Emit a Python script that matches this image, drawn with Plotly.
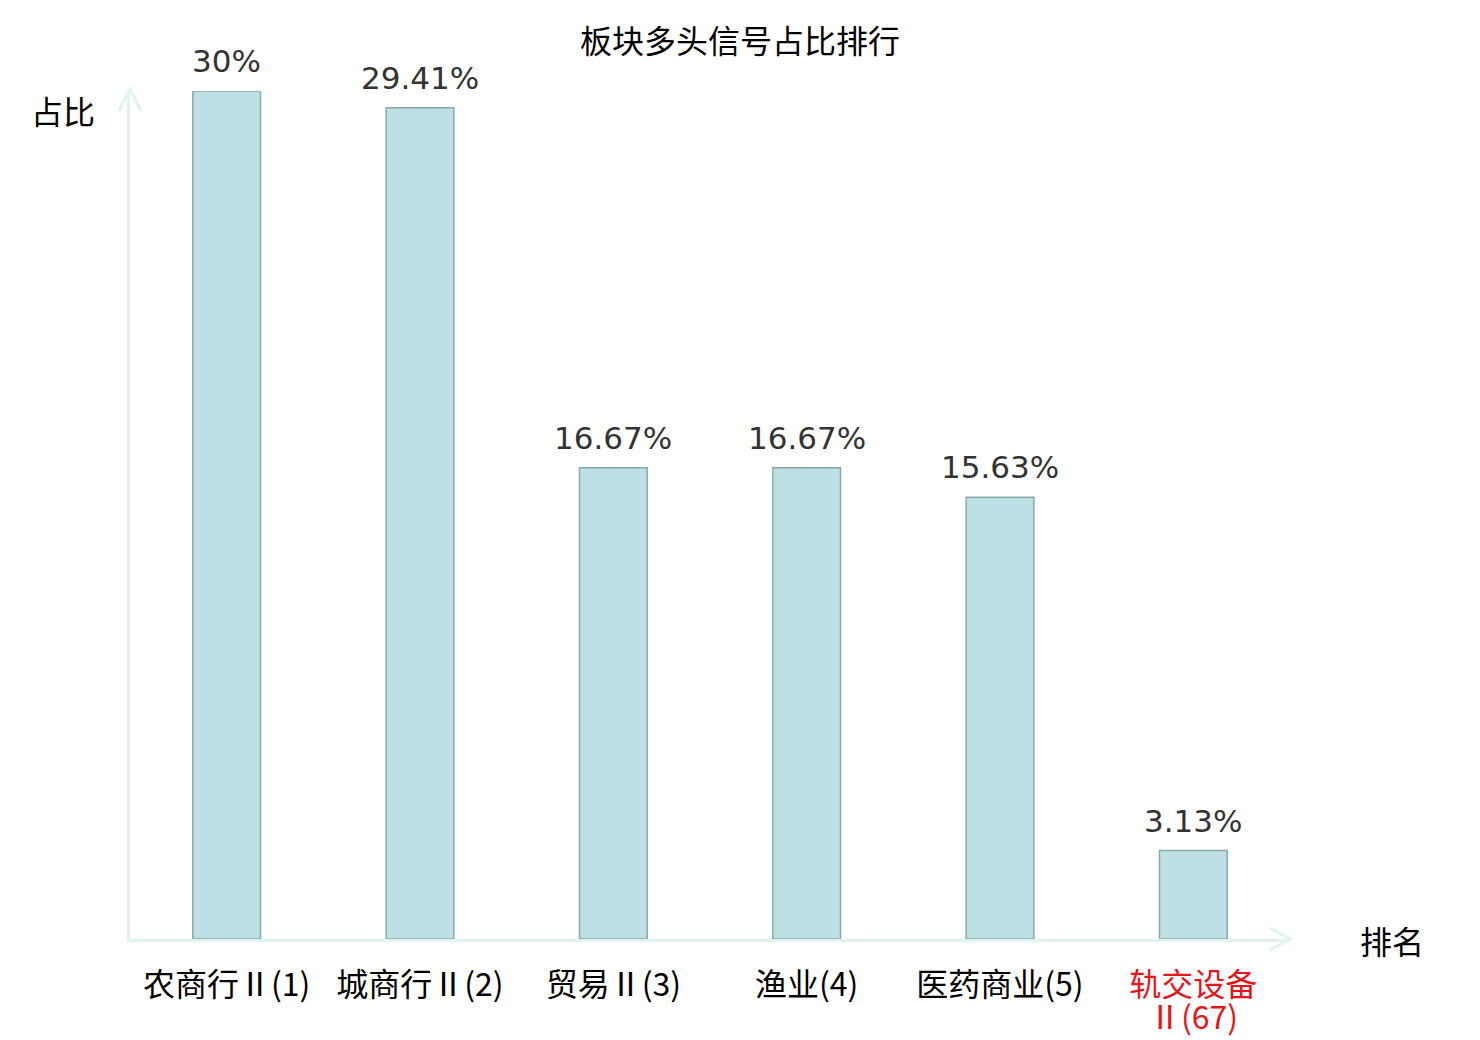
import plotly.graph_objects as go

# 板块多头信号占比
sectors = ["农商行Ⅱ", "城商行Ⅱ", "贸易Ⅱ", "渔业", "医药商业", "轨交设备Ⅱ"]
ranks = [1, 2, 3, 4, 5, 67]
ratios = [30, 29.41, 16.67, 16.67, 15.63, 3.13]
highlight = "轨交设备Ⅱ"

axis_color = "#dff3f1"
red = "#e8141a"
cjk = "Noto Sans CJK SC"

tick_text = []
for name, rk in zip(sectors, ranks):
    if name == highlight:
        # second line is added as an annotation below
        tick_text.append(f'<span style="color:{red}">{name[:-1]}</span>')
    else:
        tick_text.append(f"{name}({rk})")

labels = [f"{v:g}%" for v in ratios]

fig = go.Figure(go.Bar(
    x=sectors,
    y=ratios,
    width=0.35,
    marker=dict(color="#bce0e3", line=dict(color="#8aa8a8", width=1.5)),
))

# page body has an 8px margin, so the margins are shifted to compensate
fig.update_layout(
    width=1480, height=1040,
    margin=dict(l=122, r=198, t=83, b=109, autoexpand=False),
    plot_bgcolor="white", paper_bgcolor="white",
    showlegend=False,
    font=dict(family=cjk, color="#000000"),
    title=dict(text="板块多头信号占比排行", x=732 / 1480, xref="container", xanchor="center",
               y=1 - 34 / 1040, yref="container", yanchor="middle",
               font=dict(family=cjk, size=32, color="#000000")),
)

fig.update_xaxes(
    tickvals=sectors, ticktext=tick_text, automargin=False,
    tickfont=dict(family=cjk, size=32, color="#000000"),
    showline=True, linecolor=axis_color, linewidth=3,
    showgrid=False, ticks="", ticklabelstandoff=16,
)
fig.update_yaxes(
    range=[0, 30], showticklabels=False, showgrid=False, zeroline=False,
    automargin=False,
    showline=True, linecolor=axis_color, linewidth=3, ticks="",
)

# value labels above the bars
for name, v, lab in zip(sectors, ratios, labels):
    fig.add_annotation(text=lab, x=name, y=v, yanchor="middle", yshift=30,
                       showarrow=False,
                       font=dict(family="DejaVu Sans", size=31, color="#333333"))

# arrow heads on the axes
fig.add_shape(type="path", xref="paper", yref="paper",
              xsizemode="pixel", ysizemode="pixel", xanchor=1, yanchor=0,
              path="M -20,11 L 0,0 L -20,-11",
              line=dict(color=axis_color, width=3))
fig.add_shape(type="path", xref="paper", yref="paper",
              xsizemode="pixel", ysizemode="pixel", xanchor=0, yanchor=1,
              path="M -11,-20 L 0,2 L 11,-20",
              line=dict(color=axis_color, width=3))

idx = sectors.index(highlight)
fig.add_annotation(text=f"Ⅱ({ranks[idx]})", x=sectors[idx], yref="paper", y=0,
                   yanchor="middle", yshift=-76, showarrow=False,
                   font=dict(family=cjk, size=32, color=red))

fig.add_annotation(text="占比", xref="paper", yref="paper", x=0, y=1,
                   xanchor="center", yanchor="middle",
                   xshift=-67, yshift=-19, showarrow=False,
                   font=dict(family=cjk, size=32, color="#000000"))
fig.add_annotation(text="排名", xref="paper", yref="paper", x=1, y=0,
                   xanchor="center", yanchor="middle",
                   xshift=102, yshift=-1, showarrow=False,
                   font=dict(family=cjk, size=32, color="#000000"))

fig.write_html("out.html")
